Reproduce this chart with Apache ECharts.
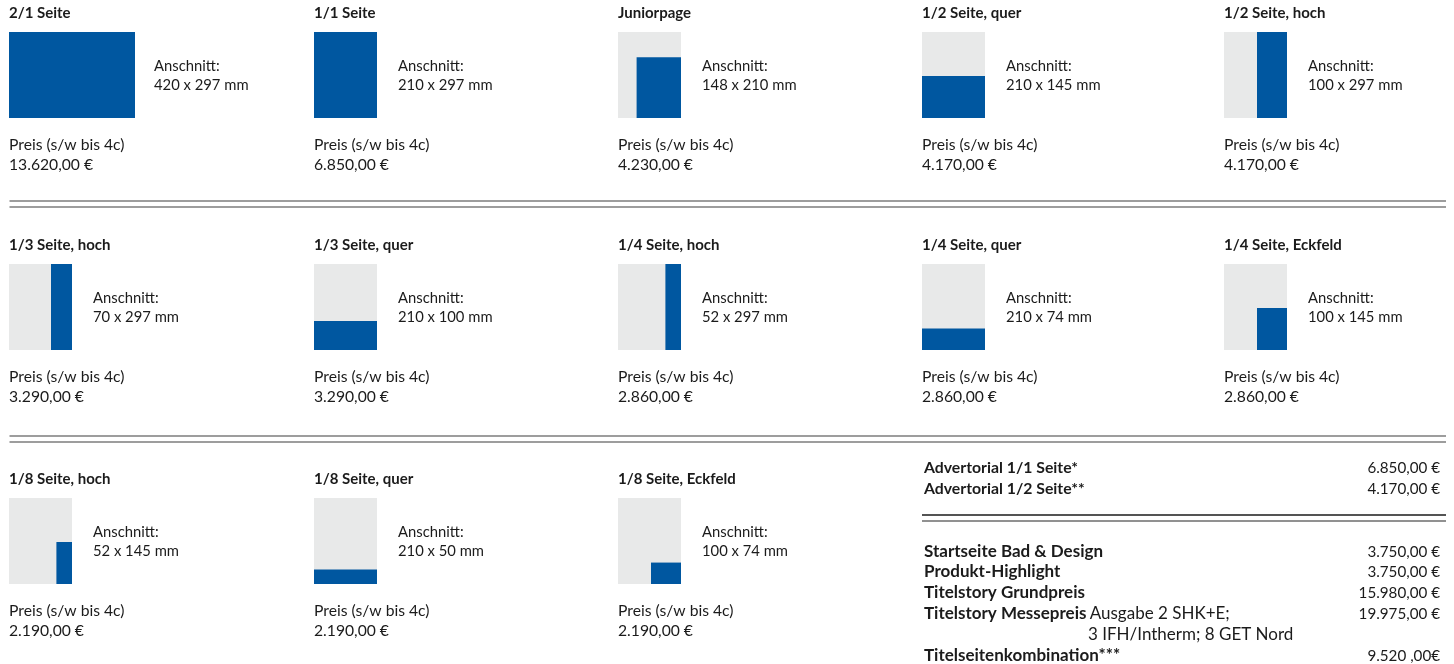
<!DOCTYPE html>
<html>
<head>
<meta charset="utf-8">
<script src="https://cdn.jsdelivr.net/npm/echarts@6/dist/echarts.min.js"></script>
<style>
  html, body { margin: 0; padding: 0; background: #fff; }
  #chart { width: 1454px; height: 664px; }
</style>
</head>
<body>
<div id="chart"></div>
<script>
// Anzeigenformate (Name, Anschnitt in mm, Preis)
const formatNames = ['2/1 Seite', '1/1 Seite', 'Juniorpage', '1/2 Seite, quer', '1/2 Seite, hoch',
  '1/3 Seite, hoch', '1/3 Seite, quer', '1/4 Seite, hoch', '1/4 Seite, quer', '1/4 Seite, Eckfeld',
  '1/8 Seite, hoch', '1/8 Seite, quer', '1/8 Seite, Eckfeld'];
const pageWidth = [420, 210, 210, 210, 210, 210, 210, 210, 210, 210, 210, 210, 210];
const pageHeight = [297, 297, 297, 297, 297, 297, 297, 297, 297, 297, 297, 297, 297];
const cutWidth = [420, 210, 148, 210, 100, 70, 210, 52, 210, 100, 52, 210, 100];
const cutHeight = [297, 297, 210, 145, 297, 297, 100, 297, 74, 145, 145, 50, 74];
const formatPrices = ['13.620,00 €', '6.850,00 €', '4.230,00 €', '4.170,00 €', '4.170,00 €',
  '3.290,00 €', '3.290,00 €', '2.860,00 €', '2.860,00 €', '2.860,00 €',
  '2.190,00 €', '2.190,00 €', '2.190,00 €'];

// Sonderformate rechts unten
const advertorialNames = ['Advertorial 1/1 Seite*', 'Advertorial 1/2 Seite**'];
const advertorialPrices = ['6.850,00 €', '4.170,00 €'];
const specialNames = ['Startseite Bad & Design', 'Produkt-Highlight', 'Titelstory Grundpreis',
  'Titelstory Messepreis', 'Titelseitenkombination***'];
const specialNotes = ['', '', '', 'Ausgabe 2 SHK+E;', ''];
const specialPrices = ['3.750,00 €', '3.750,00 €', '15.980,00 €', '19.975,00 €', '9.520 ,00€'];

const BLUE = '#0057a0';
const PAGE = '#e8e9e9';
const TEXT = '#1b1b1b';
const FONT = 'Lato, "Liberation Sans", sans-serif';

const colX = [9, 314, 618, 922, 1224];
const rowTop = [32, 264, 498];
const thumbH = 86;
const thumbW = 63; // eine Seite

const chart = echarts.init(document.getElementById('chart'));

const grids = [], xAxes = [], yAxes = [], series = [], graphics = [];

function txt(x, y, text, opt) {
  graphics.push({
    type: 'text', x: x, y: y, silent: true,
    style: Object.assign({
      text: text, fill: TEXT, font: '15.7px ' + FONT,
      textVerticalAlign: 'middle', textAlign: 'left'
    }, opt || {})
  });
}

function renderRect(params, api) {
  const a = api.coord([api.value(0), api.value(3)]);
  const b = api.coord([api.value(2), api.value(1)]);
  return {
    type: 'rect',
    shape: { x: a[0], y: a[1], width: b[0] - a[0], height: b[1] - a[1] },
    style: { fill: params.dataIndex === 0 ? PAGE : BLUE }
  };
}

formatNames.forEach(function (name, i) {
  const col = i < 5 ? i : (i - 5) % 5;
  const row = i < 5 ? 0 : (i < 10 ? 1 : 2);
  const left = colX[col];
  const top = rowTop[row];
  const w = thumbW * pageWidth[i] / 210;
  grids.push({ left: left, top: top, width: w, height: thumbH });
  xAxes.push({ gridIndex: i, type: 'value', min: 0, max: pageWidth[i], show: false });
  yAxes.push({ gridIndex: i, type: 'value', min: 0, max: pageHeight[i], show: false });
  const pw = pageWidth[i];
  series.push({
    type: 'custom', xAxisIndex: i, yAxisIndex: i, clip: false, silent: true,
    renderItem: renderRect,
    encode: { x: [0, 2], y: [1, 3] },
    data: [
      [0, 0, pw, pageHeight[i]],
      [pw - cutWidth[i], 0, pw, cutHeight[i]]
    ]
  });

  txt(left, top - 19, name, { font: 'bold 15px ' + FONT });
  const tx = left + w + (i === 0 ? 19 : 21);
  const cy = top + thumbH / 2;
  txt(tx, cy - 9, 'Anschnitt:', { font: '14.8px ' + FONT });
  txt(tx, cy + 10, cutWidth[i] + ' x ' + cutHeight[i] + ' mm', { font: '14.8px ' + FONT });
  txt(left, top + thumbH + 27, 'Preis (s/w bis 4c)');
  txt(left, top + thumbH + 47, formatPrices[i]);
});

// Trennlinien
function hline(x1, x2, y, color) {
  graphics.push({
    type: 'line', silent: true,
    shape: { x1: x1, y1: y, x2: x2, y2: y },
    style: { stroke: color, lineWidth: 1.5 }
  });
}
hline(9.5, 1446, 201, '#7d7d7d');
hline(9.5, 1446, 207, '#7d7d7d');
hline(9.5, 1446, 436, '#7d7d7d');
hline(9.5, 1446, 442, '#7d7d7d');
hline(922, 1446, 515, '#1b1b1b');
hline(922, 1446, 521, '#6d6d6d');

// Tabelle rechts
advertorialNames.forEach(function (n, k) {
  const y = 468 + k * 21;
  txt(924, y, n, { font: 'bold 15.8px ' + FONT });
  txt(1440, y, advertorialPrices[k], { font: '15.2px ' + FONT, textAlign: 'right' });
});
const specialY = [552, 572, 593, 614, 656];
specialNames.forEach(function (n, k) {
  const y = specialY[k];
  graphics.push({
    type: 'text', x: 924, y: y, silent: true,
    style: {
      text: '{b|' + n + '}' + (specialNotes[k] ? ' {r|' + specialNotes[k] + '}' : ''),
      textVerticalAlign: 'middle',
      rich: {
        b: { font: 'bold 17px ' + FONT, fill: TEXT, color: TEXT },
        r: { font: '17px ' + FONT, fill: TEXT, color: TEXT }
      }
    }
  });
  txt(1440, y, specialPrices[k], { font: '15.2px ' + FONT, textAlign: 'right' });
});
txt(1088, 635, '3 IFH/Intherm; 8 GET Nord', { font: '17px ' + FONT });

chart.setOption({
  animation: false,
  backgroundColor: '#ffffff',
  grid: grids,
  xAxis: xAxes,
  yAxis: yAxes,
  series: series,
  graphic: { elements: graphics }
});
</script>
</body>
</html>
